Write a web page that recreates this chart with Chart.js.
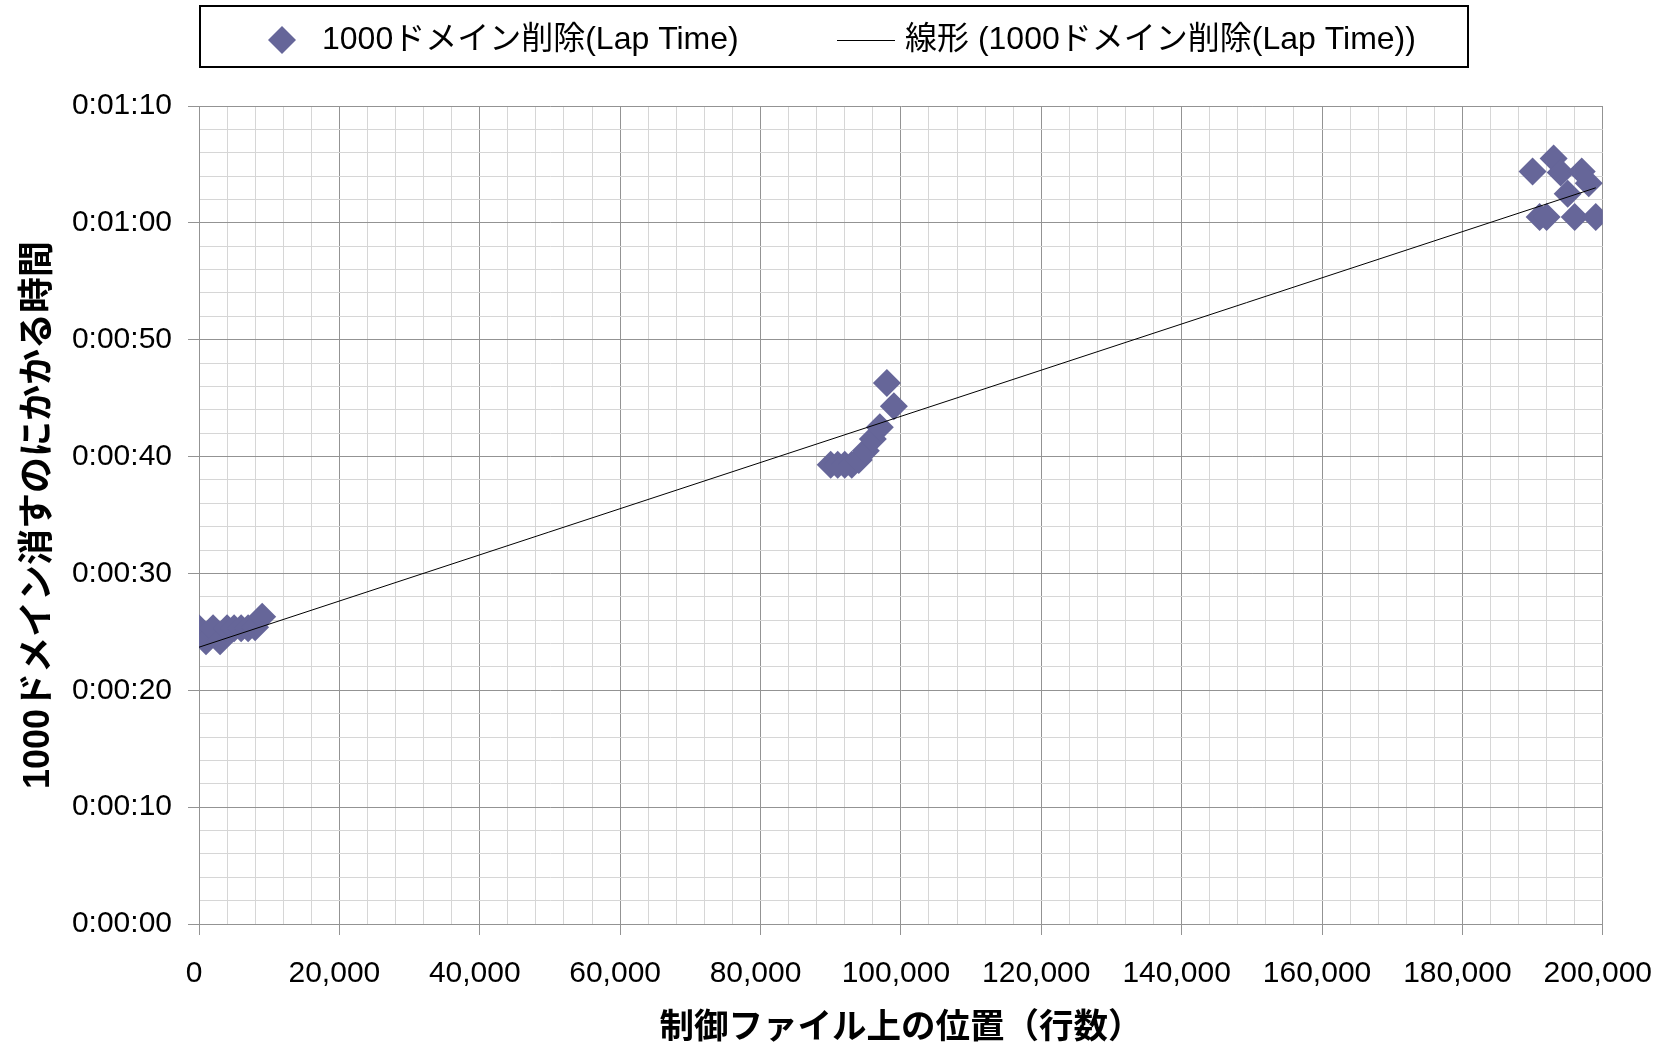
<!DOCTYPE html>
<html lang="ja">
<head>
<meta charset="utf-8">
<title>1000ドメイン削除(Lap Time)</title>
<script src="https://cdn.jsdelivr.net/npm/chart.js@4.4.1/dist/chart.umd.min.js"></script>
<style>
  html, body { margin: 0; padding: 0; background: #fff; }
  #wrap { width: 1678px; height: 1044px; position: relative; }
</style>
</head>
<body>
<div id="wrap"><canvas id="lapChart"></canvas></div>
<script>
// 制御ファイル上の位置(行数)
const positions = [
  0, 1000, 2000, 3000, 4000, 5000, 6000, 7000, 8000, 9000,
  90000, 91000, 92000, 93000, 94000, 95000, 96000, 97000, 98000, 99000,
  190000, 191000, 192000, 193000, 194000, 195000, 196000, 197000, 198000, 199000
];
// 1000ドメイン消すのにかかる時間(秒)
const lapSeconds = [
  25.3, 24.2, 25.3, 24.2, 25.3, 25.3, 25.3, 25.3, 25.4, 26.3,
  39.3, 39.3, 39.3, 39.3, 39.7, 40.5, 41.5, 42.5, 46.3, 44.3,
  64.4, 60.5, 60.5, 65.5, 64.3, 62.5, 60.5, 64.4, 63.4, 60.5
];
const xMajorTicks = [0, 20000, 40000, 60000, 80000, 100000, 120000, 140000, 160000, 180000, 200000];
const yMajorTicks = [0, 10, 20, 30, 40, 50, 60, 70];

const seriesLabel = '1000ドメイン削除(Lap Time)';
const trendLabel = '線形 (1000ドメイン削除(Lap Time))';
const seriesColor = '#666699';
const majorGrid = '#939393';
const minorGrid = '#d6d6d6';
const markerRadius = 14;

// 線形近似（最小二乗法）
function linearFit(xs, ys) {
  const n = xs.length;
  const mx = xs.reduce((a, b) => a + b, 0) / n;
  const my = ys.reduce((a, b) => a + b, 0) / n;
  let sxy = 0, sxx = 0;
  xs.forEach((x, i) => { sxy += (x - mx) * (ys[i] - my); sxx += (x - mx) * (x - mx); });
  const slope = sxy / sxx;
  return { slope, intercept: my - slope * mx };
}

function fmtTime(sec) {
  const m = Math.floor(sec / 60);
  const s = Math.round(sec % 60);
  return '0:' + String(m).padStart(2, '0') + ':' + String(s).padStart(2, '0');
}

const points = positions.map((x, i) => ({ x: x, y: lapSeconds[i] }));
const fit = linearFit(positions, lapSeconds);
const xFirst = Math.min(...positions), xLast = Math.max(...positions);
const trendPoints = [
  { x: xFirst, y: fit.intercept + fit.slope * xFirst },
  { x: xLast, y: fit.intercept + fit.slope * xLast }
];

const tickFont = { family: '"Liberation Sans", Arial, sans-serif', size: 30 };
const titleFamily = '"Liberation Sans", "Noto Sans CJK JP", sans-serif';

// 凡例（枠付き）
const legendBox = {
  id: 'legendBox',
  afterDraw(chart) {
    const ctx = chart.ctx;
    const cy = 40;
    ctx.save();
    ctx.strokeStyle = '#000';
    ctx.lineWidth = 2;
    ctx.strokeRect(200, 6, 1268, 61);

    // 系列と同じマーカー
    ctx.fillStyle = seriesColor;
    Chart.helpers.drawPoint(ctx, { pointStyle: 'rectRot', radius: markerRadius, rotation: 0, borderWidth: 0 }, 282, cy);

    ctx.strokeStyle = '#000';
    ctx.lineWidth = 1;
    ctx.beginPath();
    ctx.moveTo(837, cy + 0.5);
    ctx.lineTo(895, cy + 0.5);
    ctx.stroke();

    ctx.fillStyle = '#000';
    ctx.font = '32px "Liberation Sans", "Noto Sans CJK JP", sans-serif';
    ctx.textBaseline = 'middle';
    ctx.textAlign = 'left';
    ctx.fillText(seriesLabel, 322, cy);
    ctx.fillText(trendLabel, 905, cy);
    ctx.restore();
  }
};

new Chart(document.getElementById('lapChart'), {
  type: 'scatter',
  data: {
    datasets: [
      {
        label: trendLabel,
        data: trendPoints,
        showLine: true,
        borderColor: '#000',
        borderWidth: 1,
        pointRadius: 0,
        pointHoverRadius: 0,
        fill: false
      },
      {
        label: seriesLabel,
        data: points,
        pointStyle: 'rectRot',
        pointRadius: markerRadius,
        pointHoverRadius: markerRadius,
        backgroundColor: seriesColor,
        borderWidth: 0
      }
    ]
  },
  options: {
    responsive: true,
    maintainAspectRatio: false,
    animation: false,
    layout: { padding: { top: 106, right: 71, left: 0, bottom: 0 } },
    plugins: {
      legend: { display: false },
      tooltip: { enabled: false }
    },
    scales: {
      x: {
        type: 'linear',
        min: 0,
        max: 200000,
        afterFit: s => { s.height = 120; },
        ticks: {
          stepSize: 4000,
          autoSkip: false,
          maxRotation: 0,
          minRotation: 0,
          padding: 21,
          labelOffset: -5,
          color: '#000',
          font: tickFont,
          callback: v => xMajorTicks.includes(v) ? v.toLocaleString('en-US') : ''
        },
        grid: {
          color: c => (c.tick && xMajorTicks.includes(c.tick.value)) ? majorGrid : minorGrid,
          tickColor: c => (c.tick && xMajorTicks.includes(c.tick.value)) ? majorGrid : 'rgba(0,0,0,0)',
          tickLength: 11,
          lineWidth: 1
        },
        border: { display: true, color: majorGrid, width: 1 },
        title: {
          display: true,
          text: '制御ファイル上の位置（行数）',
          color: '#000',
          font: { family: titleFamily, size: 34.5, weight: 'bold', lineHeight: 0.9 },
          padding: { top: 0, bottom: 0 }
        }
      },
      y: {
        min: 0,
        max: 70,
        afterFit: s => { s.width = 199; },
        ticks: {
          stepSize: 2,
          autoSkip: false,
          padding: 16,
          color: '#000',
          font: tickFont,
          callback: v => yMajorTicks.includes(v) ? fmtTime(v) : ''
        },
        grid: {
          color: c => (c.tick && yMajorTicks.includes(c.tick.value)) ? majorGrid : minorGrid,
          tickColor: c => (c.tick && yMajorTicks.includes(c.tick.value)) ? majorGrid : 'rgba(0,0,0,0)',
          tickLength: 11,
          lineWidth: 1
        },
        border: { display: true, color: majorGrid, width: 1 },
        title: {
          display: true,
          text: '1000ドメイン消すのにかかる時間',
          color: '#000',
          font: { family: titleFamily, size: 36, weight: 'bold', lineHeight: 1.2 },
          padding: { top: 17, bottom: 0 }
        }
      }
    }
  },
  plugins: [legendBox]
});
</script>
</body>
</html>
